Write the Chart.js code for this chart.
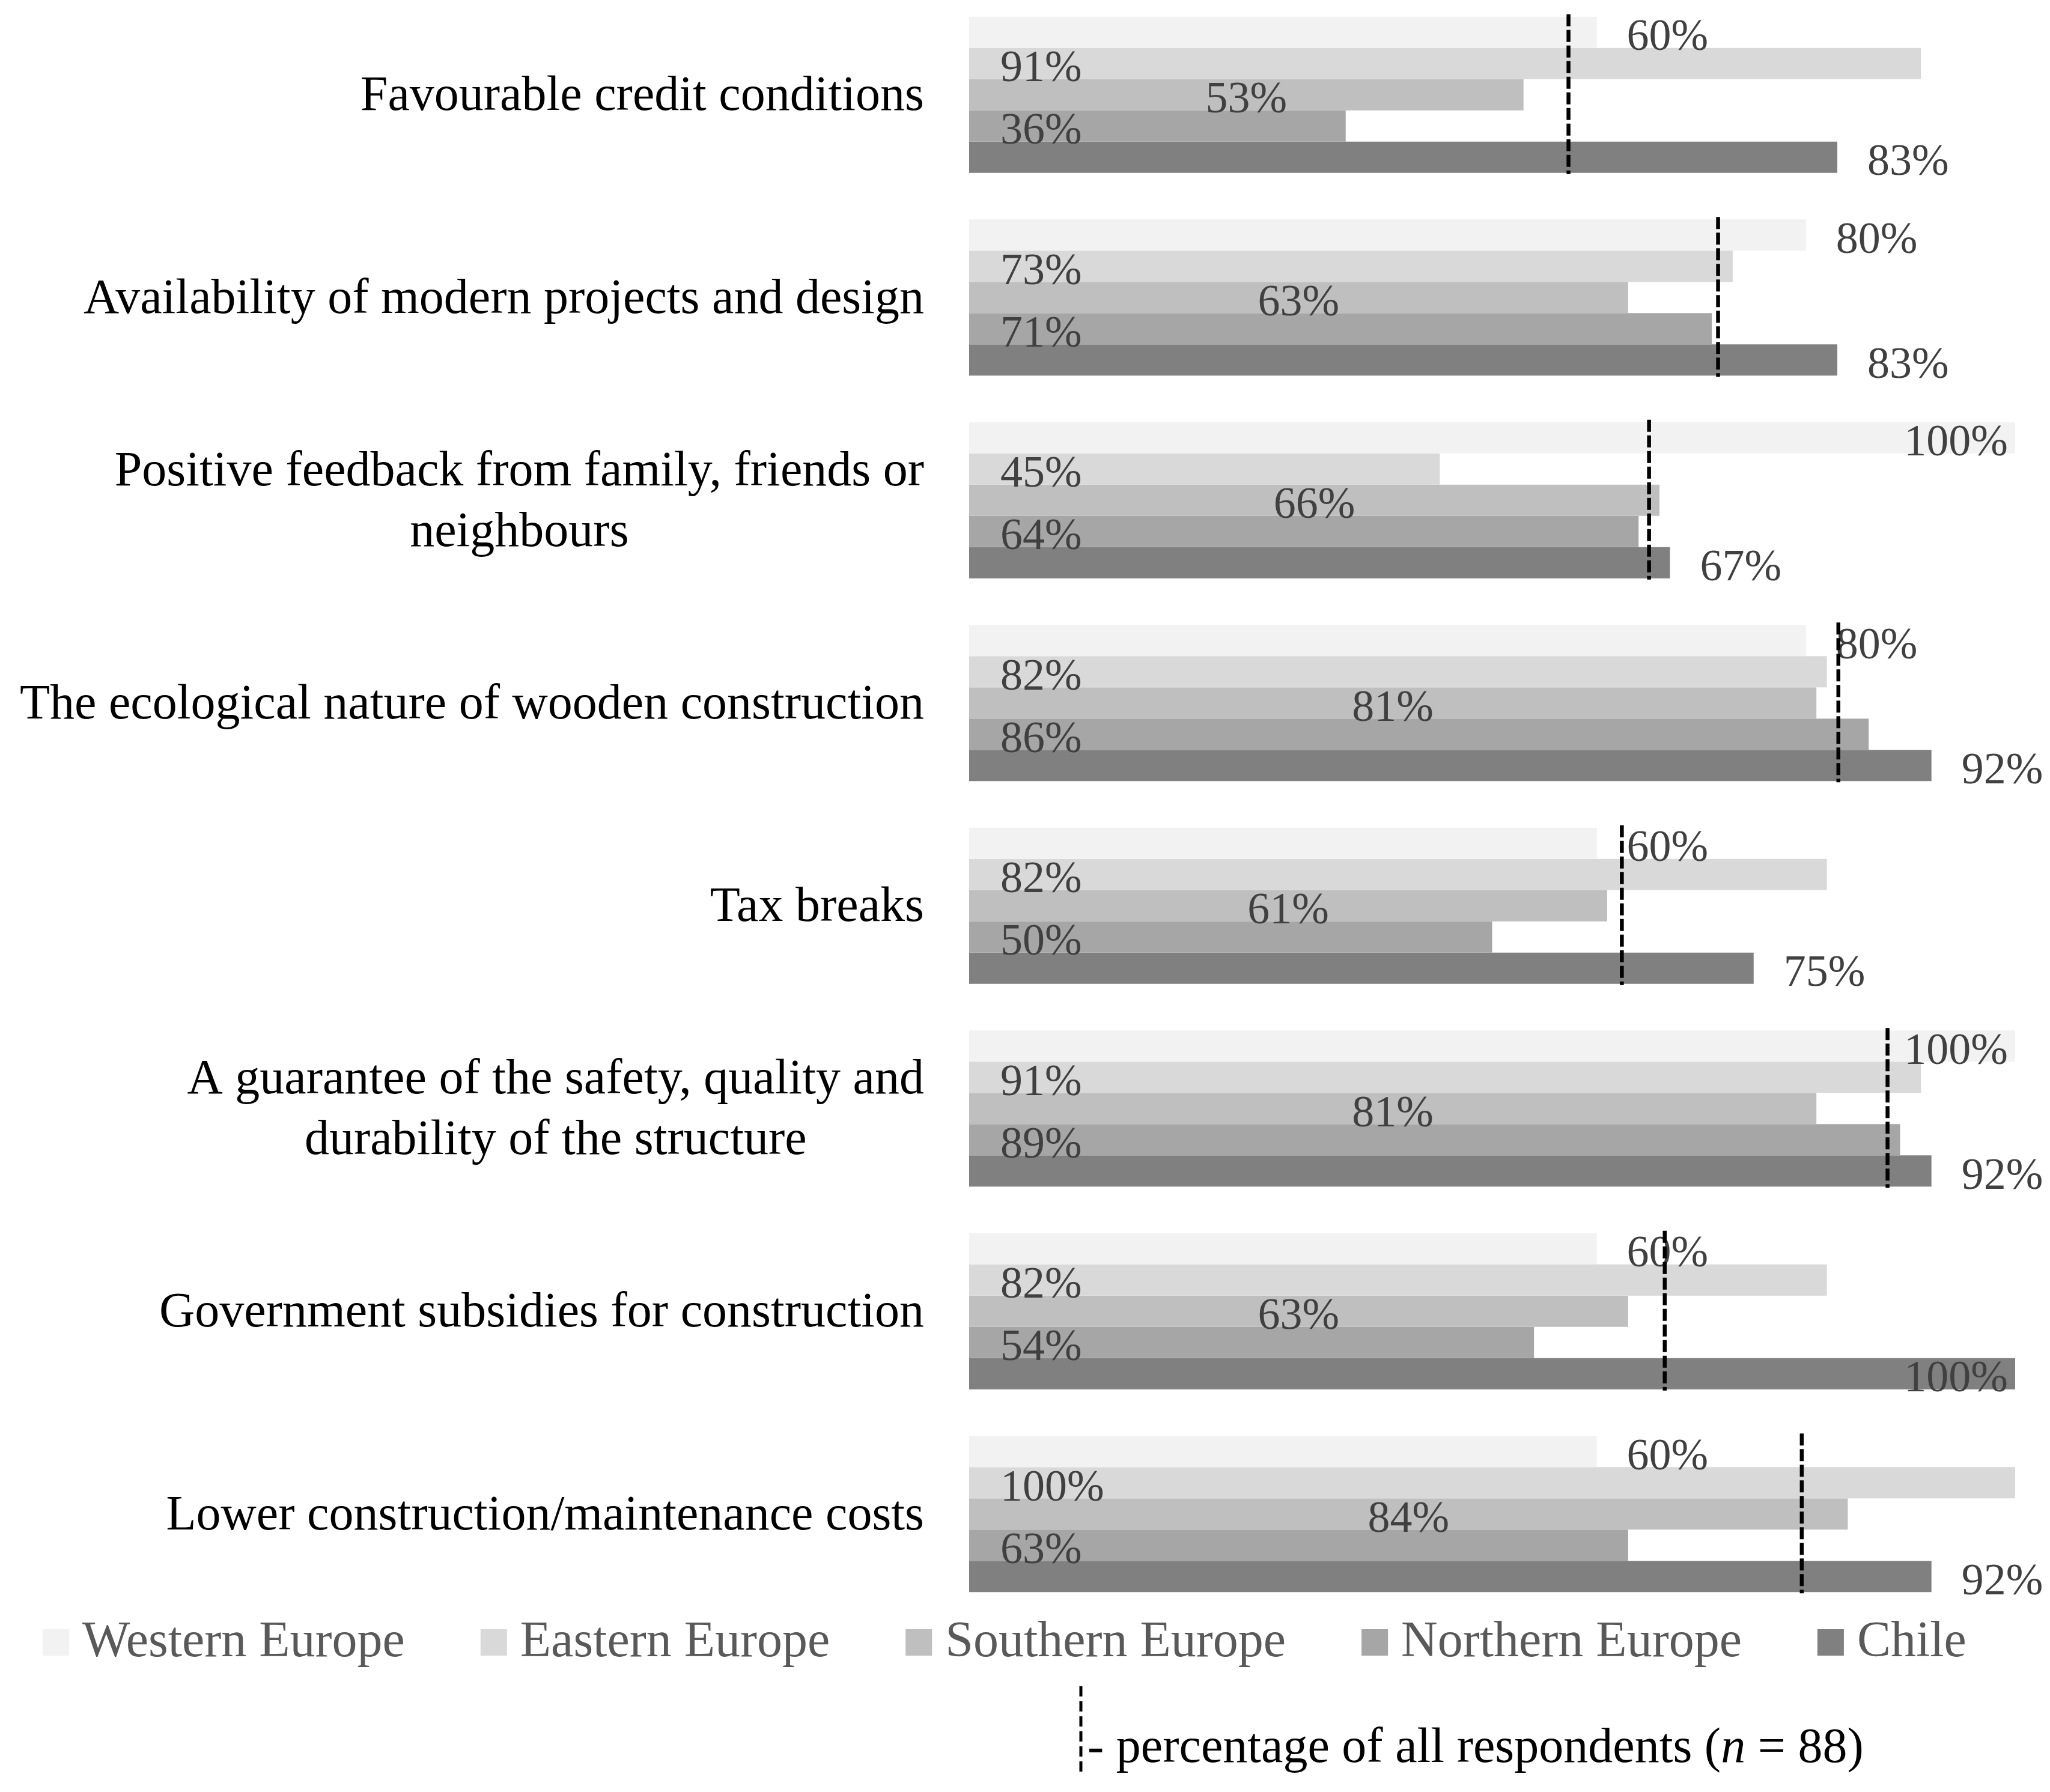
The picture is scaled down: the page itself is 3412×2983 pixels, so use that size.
<!DOCTYPE html>
<html>
<head>
<meta charset="utf-8">
<script src="https://cdn.jsdelivr.net/npm/chart.js@4.4.1/dist/chart.umd.min.js"></script>
<style>
    body { margin: 0; background: #ffffff; overflow: hidden; }
    #wrap { position: relative; width: 3412px; height: 2983px; overflow: hidden; }
    #barChart { position: absolute; left: 0; top: -11px; }
</style>
</head>
<body>
<div id="wrap"><canvas id="barChart" width="3412" height="2994"></canvas></div>
<script>
// Data
const categories = [
    ["Favourable credit conditions"],
    ["Availability of modern projects and design"],
    ["Positive feedback from family, friends or", "neighbours"],
    ["The ecological nature of wooden construction"],
    ["Tax breaks"],
    ["A guarantee of the safety, quality and", "durability of the structure"],
    ["Government subsidies for construction"],
    ["Lower construction/maintenance costs"]
];
const seriesNames = ["Western Europe", "Eastern Europe", "Southern Europe", "Northern Europe", "Chile"];
const western = [60, 80, 100, 80, 60, 100, 60, 60];
const eastern = [91, 73, 45, 82, 82, 91, 82, 100];
const southern = [53, 63, 66, 81, 61, 81, 63, 84];
const northern = [36, 71, 64, 86, 50, 89, 54, 63];
const chile = [83, 83, 67, 92, 75, 92, 100, 92];
// streckad linje - alla respondenter
const allRespondents = [57.3, 71.6, 65, 83.1, 62.4, 87.8, 66.5, 79.6];
const noteText = "- percentage of all respondents (";
const noteN = "88";

const colors = ["#f2f2f2", "#d9d9d9", "#bfbfbf", "#a6a6a6", "#808080"];
const FONT = "'Liberation Serif', 'Times New Roman', serif";

// Etiketter på staplarna
const valueLabels = {
    id: "valueLabels",
    afterDatasetsDraw(chart) {
        const ctx = chart.ctx;
        ctx.save();
        ctx.font = "74px " + FONT;
        ctx.fillStyle = "#404040";
        ctx.textBaseline = "middle";
        chart.data.datasets.forEach((ds, i) => {
            const meta = chart.getDatasetMeta(i);
            meta.data.forEach((bar, j) => {
                const v = ds.data[j];
                const txt = v + "%";
                let x, align;
                if (i === 0 || i === 4) {
                    if (v >= 95) { x = bar.x - 12; align = "right"; }
                    else { x = bar.x + 50; align = "left"; }
                } else if (i === 2) {
                    x = (bar.x + bar.base) / 2; align = "center";
                } else {
                    x = bar.base + 52; align = "left";
                }
                ctx.textAlign = align;
                ctx.fillText(txt, x, bar.y + 10);
            });
        });

        // streckade linjer
        const first = chart.getDatasetMeta(0).data;
        const last = chart.getDatasetMeta(4).data;
        ctx.strokeStyle = "#000000";
        ctx.lineWidth = 6.5;
        ctx.setLineDash([20, 6]);
        allRespondents.forEach((v, j) => {
            const x = chart.scales.x.getPixelForValue(v);
            const top = first[j].y - first[j].height / 2 - 4;
            const bottom = last[j].y + last[j].height / 2 + 2;
            ctx.beginPath();
            ctx.moveTo(x, top);
            ctx.lineTo(x, bottom);
            ctx.stroke();
        });
        ctx.restore();
    },
    afterDraw(chart) {
        const ctx = chart.ctx;
        ctx.save();

        // Kategorier
        ctx.font = "82px " + FONT;
        ctx.fillStyle = "#000000";
        ctx.textBaseline = "middle";
        ctx.textAlign = "center";
        const right = chart.chartArea.left - 75;
        categories.forEach((lines, i) => {
            const y = chart.scales.y.getPixelForValue(i);
            const w = Math.max(...lines.map(l => ctx.measureText(l).width));
            lines.forEach((l, k) => {
                const ly = y + (k - (lines.length - 1) / 2) * 101 + 4;
                ctx.fillText(l, right - w / 2, ly);
            });
        });

        // Förklaring
        ctx.font = "84px " + FONT;
        ctx.textAlign = "left";
        ctx.textBaseline = "alphabetic";
        const box = 44, gapBox = 22, gapItem = 126;
        const widths = seriesNames.map(n => box + gapBox + ctx.measureText(n).width);
        const total = widths.reduce((a, b) => a + b, 0) + gapItem * (widths.length - 1);
        let lx = 1672 - total / 2;
        seriesNames.forEach((n, i) => {
            ctx.fillStyle = colors[i];
            ctx.fillRect(lx, 2723, box, box);
            ctx.fillStyle = "#595959";
            ctx.fillText(n, lx + box + gapBox, 2768);
            lx += widths[i] + gapItem;
        });

        // Notering
        ctx.strokeStyle = "#000000";
        ctx.lineWidth = 5;
        ctx.setLineDash([17, 8]);
        ctx.beginPath();
        ctx.moveTo(1799, 2818);
        ctx.lineTo(1799, 2966);
        ctx.stroke();
        ctx.fillStyle = "#000000";
        ctx.font = "82px " + FONT;
        let nx = 1810;
        const ny = 2944;
        ctx.fillText(noteText, nx, ny);
        nx += ctx.measureText(noteText).width;
        ctx.font = "italic 82px " + FONT;
        ctx.fillText("n", nx, ny);
        nx += ctx.measureText("n").width;
        ctx.font = "82px " + FONT;
        ctx.fillText(" = " + noteN + ")", nx, ny);
        ctx.restore();
    }
};

const seriesData = [western, eastern, southern, northern, chile];

new Chart(document.getElementById("barChart"), {
    type: "bar",
    data: {
        labels: categories,
        datasets: seriesData.map((d, i) => ({
            label: seriesNames[i],
            data: d,
            backgroundColor: colors[i],
            borderWidth: 0,
            barPercentage: 1.0,
            categoryPercentage: 0.7704
        }))
    },
    options: {
        indexAxis: "y",
        responsive: false,
        animation: false,
        devicePixelRatio: 1,
        layout: {
            padding: { left: 1613, right: 58, top: 0, bottom: 294 }
        },
        scales: {
            x: { display: false, min: 0, max: 100 },
            y: { display: false }
        },
        plugins: {
            legend: { display: false },
            tooltip: { enabled: false }
        }
    },
    plugins: [valueLabels]
});
</script>
</body>
</html>
